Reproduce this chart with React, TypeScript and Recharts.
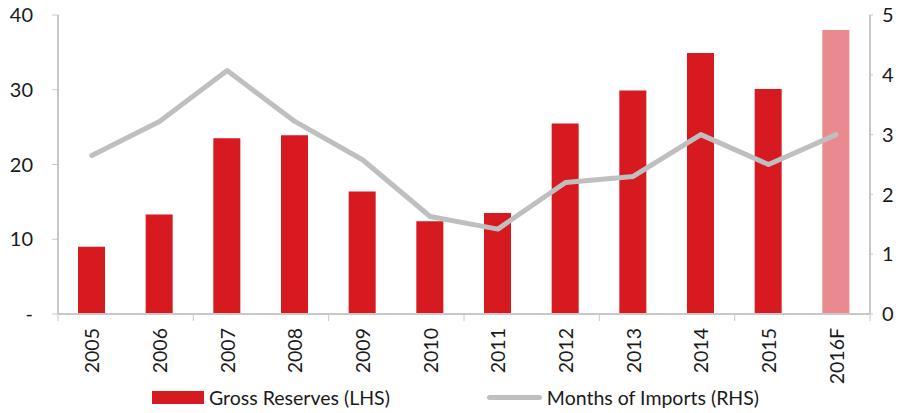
import { ComposedChart, Bar, Line, XAxis, YAxis, Cell } from 'recharts'

const years = ['2005', '2006', '2007', '2008', '2009', '2010', '2011', '2012', '2013', '2014', '2015', '2016F']
const grossReserves = [9.0, 13.3, 23.5, 23.9, 16.4, 12.4, 13.5, 25.5, 29.9, 34.9, 30.1, 38.0]
const monthsOfImports = [2.65, 3.22, 4.07, 3.22, 2.58, 1.63, 1.42, 2.2, 2.3, 3.0, 2.5, 3.0]
const leftTicks = [0, 10, 20, 30, 40]
const rightTicks = [0, 1, 2, 3, 4, 5]

const RED = '#D71920'
const PINK = '#EA8A8E'
const GREY = '#BFBFBF'
const AXIS = '#C8C8C8'
const FONT = 'Lato, "Open Sans", sans-serif'

const data = years.map((year, i) => ({
  year,
  reserves: grossReserves[i],
  months: monthsOfImports[i],
}))

// x labels rotated, tick marks only on every second category boundary
const XTick = ({ x, y, payload, index }: any) => {
  const half = payload?.offset ?? 33.8
  const axisY = y - 14
  return (
    <g>
      {index % 2 === 0 && (
        <line x1={x - half} x2={x - half} y1={axisY} y2={axisY + 7} stroke={AXIS} />
      )}
      {index === years.length - 1 && (
        <line x1={x + half} x2={x + half} y1={axisY} y2={axisY + 7} stroke={AXIS} />
      )}
      <text
        x={x}
        y={y}
        transform={`rotate(-90, ${x}, ${y})`}
        textAnchor="end"
        dominantBaseline="central"
        fontSize={19.5}
        fontFamily={FONT}
        fill="#1a1a1a"
      >
        {payload.value}
      </text>
    </g>
  )
}

export default function App() {
  return (
    <div style={{ position: 'absolute', left: 0, top: 0, width: 899, height: 413 }}>
      <ComposedChart
        width={899}
        height={413}
        data={data}
        margin={{ top: 15, right: 0, bottom: 0, left: 0 }}
      >
        <XAxis
          dataKey="year"
          height={99}
          interval={0}
          tickSize={8}
          tickMargin={6}
          tickLine={false}
          axisLine={{ stroke: AXIS, strokeWidth: 2 }}
          tick={<XTick />}
        />
        <YAxis
          yAxisId="left"
          domain={[0, 40]}
          ticks={leftTicks}
          width={58}
          tickSize={6}
          tickMargin={19}
          tickFormatter={(v: number) => (v === 0 ? '-' : String(v))}
          axisLine={{ stroke: AXIS, strokeWidth: 2 }}
          tickLine={{ stroke: AXIS }}
          tick={{ fontSize: 20, fontFamily: FONT, fill: '#1a1a1a' }}
        />
        <YAxis
          yAxisId="right"
          orientation="right"
          domain={[0, 5]}
          ticks={rightTicks}
          width={29}
          tickSize={3}
          tickMargin={9}
          axisLine={{ stroke: AXIS, strokeWidth: 2 }}
          tickLine={{ stroke: AXIS }}
          tick={{ fontSize: 20, fontFamily: FONT, fill: '#1a1a1a', textAnchor: 'start' }}
        />
        <Bar yAxisId="left" dataKey="reserves" barSize={27} isAnimationActive={false}>
          {data.map((d) => (
            <Cell key={d.year} fill={d.year.endsWith('F') ? PINK : RED} />
          ))}
        </Bar>
        <Line
          yAxisId="right"
          dataKey="months"
          type="linear"
          stroke={GREY}
          strokeWidth={5}
          strokeLinecap="round"
          strokeLinejoin="round"
          dot={false}
          isAnimationActive={false}
        />
      </ComposedChart>
      <div
        style={{
          position: 'absolute',
          top: 386,
          left: 152,
          display: 'flex',
          alignItems: 'center',
          fontFamily: FONT,
          fontSize: 19.5,
          color: '#1a1a1a',
          whiteSpace: 'nowrap',
        }}
      >
        <span style={{ width: 52, height: 13, background: RED, display: 'inline-block' }} />
        <span style={{ marginLeft: 5 }}>Gross Reserves (LHS)</span>
        <span
          style={{
            width: 55,
            height: 5,
            borderRadius: 3,
            background: GREY,
            display: 'inline-block',
            marginLeft: 97,
          }}
        />
        <span style={{ marginLeft: 5 }}>Months of Imports (RHS)</span>
      </div>
    </div>
  )
}
